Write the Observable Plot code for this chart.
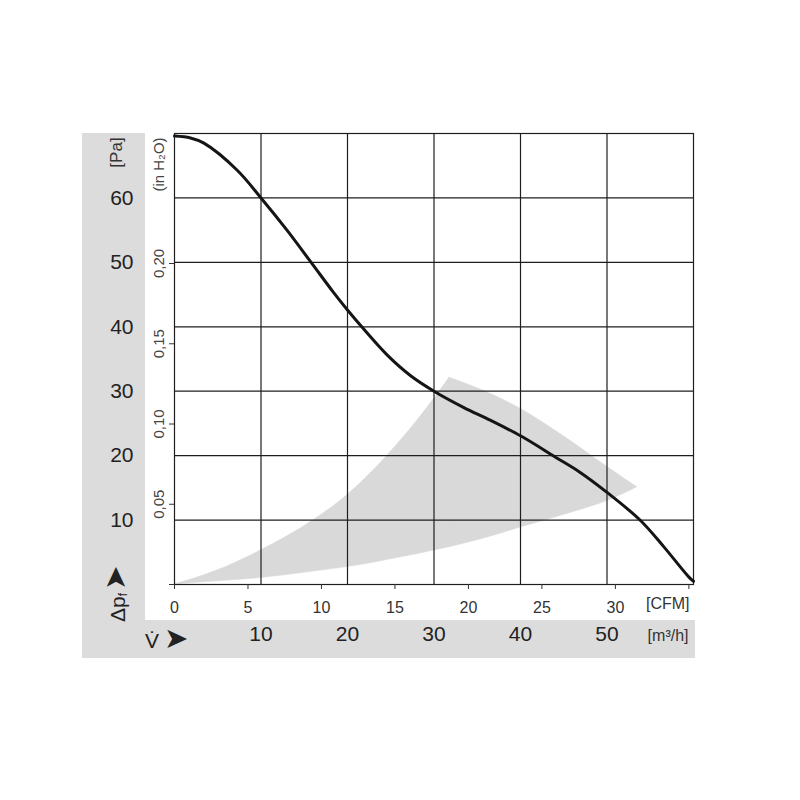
<!DOCTYPE html>
<html><head><meta charset="utf-8">
<script src="https://cdn.jsdelivr.net/npm/d3@7"></script>
<script src="https://cdn.jsdelivr.net/npm/@observablehq/plot@0.6"></script>
<style>body{margin:0;background:#fff;}</style>
</head><body><div id="chart"></div>
<script>
// Fan curve: static pressure (Pa) vs. air flow (m³/h)
const flowM3h    = [0, 1.85, 3.4, 7.25, 10, 13.0, 15.9, 18.4, 20, 21.9, 24.6, 27.3, 30, 33.4, 36.5, 40.1, 44.0, 46.9, 50.0, 53.9, 56.6, 59.5, 60];
const pressurePa = [69.6, 69.3, 68.5, 64.3, 60, 55.0, 49.8, 45.3, 42.6, 39.6, 35.6, 32.4, 30.0, 27.5, 25.5, 23.0, 19.8, 17.4, 14.3, 9.9, 5.8, 1.1, 0.5];

// Shaded operating zone, left part (rising edge) and right part (outer arc)
const zoneRiseFlow  = [0, 5, 10, 16.1, 20, 22.7, 24.6, 28.4, 31.8];
const zoneRiseUpper = [0, 2.2, 5.3, 10.0, 13.9, 17.3, 20.0, 26.0, 32.1];
const zoneRiseLower = [0, 0.5, 1.0, 2.0, 2.7, 3.3, 3.8, 4.8, 5.8];
const zoneArcFlow   = [31.8, 36, 40.1, 45.0, 50.3, 53.5];
const zoneArcUpper  = [32.1, 29.9, 27.2, 23.0, 18.0, 15.1];
const zoneArcLower  = [5.8, 7.2, 8.9, 10.8, 13.1, 15.1];

const paTicks = [10, 20, 30, 40, 50, 60];
const inH2OTicks = [0, 0.05, 0.10, 0.15, 0.20];
const inH2OLabels = ["", "0,05", "0,10", "0,15", "0,20"];
const cfmTicks = [0, 5, 10, 15, 20, 25, 30, 35];
const cfmLabels = ["0", "5", "10", "15", "20", "25", "30", ""];
const m3hTicks = [10, 20, 30, 40, 50];
const gridM3h = [10, 20, 30, 40, 50];

const PA_PER_INH2O = 249.089;
const M3H_PER_CFM = 1.69901;

const curveData = flowM3h.map((x, i) => ({x, y: pressurePa[i]}));
const riseData = zoneRiseFlow.map((x, i) => ({x, y1: zoneRiseLower[i], y2: zoneRiseUpper[i]}));
const arcData = zoneArcFlow.map((x, i) => ({x, y1: zoneArcLower[i], y2: zoneArcUpper[i]}));
const cfmPos = cfmTicks.map(c => c * M3H_PER_CFM);
const inData = inH2OTicks.map((v, i) => ({y: v * PA_PER_INH2O, label: inH2OLabels[i]}));
const font = "'Liberation Sans', Arial, Helvetica, sans-serif";
const ink = "#1e1e1e";
const zoneFill = "#d9d9d9";

const plot = Plot.plot({
  width: 800, height: 800,
  marginLeft: 174, marginRight: 107, marginTop: 133, marginBottom: 216,
  style: {fontFamily: font, overflow: "visible"},
  x: {domain: [0, 60], axis: null},
  y: {domain: [0, 70], axis: null},
  marks: [
    Plot.areaY(riseData, {x: "x", y1: "y1", y2: "y2", fill: zoneFill, stroke: zoneFill, strokeWidth: 0.5, curve: "monotone-x"}),
    Plot.areaY(arcData, {x: "x", y1: "y1", y2: "y2", fill: zoneFill, stroke: zoneFill, strokeWidth: 0.5, curve: "monotone-x"}),
    Plot.gridX(gridM3h, {stroke: ink, strokeOpacity: 1, strokeWidth: 1.2}),
    Plot.gridY(paTicks, {stroke: ink, strokeOpacity: 1, strokeWidth: 1.2}),
    Plot.frame({stroke: ink, strokeWidth: 1.2}),
    Plot.axisX(cfmPos, {tickSize: 5, tickPadding: 12, fontSize: 16, color: "#333", label: null,
      tickFormat: d => cfmLabels[cfmPos.indexOf(d)]}),
    Plot.axisY(inData.map(d => d.y), {tickSize: 5, tickFormat: () => "", color: "#333", label: null}),
    Plot.text(inData.filter(d => d.label), {y: "y", text: "label", frameAnchor: "left", dx: -15, rotate: -90,
      textAnchor: "middle", lineAnchor: "middle", fontSize: 15, fill: "#444"}),
    Plot.text(["(in H₂O)"], {frameAnchor: "top-left", dx: -15, dy: 31, rotate: -90,
      textAnchor: "middle", lineAnchor: "middle", fontSize: 15, fill: "#444"}),
    Plot.text(paTicks, {y: d => d, frameAnchor: "left", dx: -41, textAnchor: "end", fontSize: 21, fill: "#222"}),
    Plot.text(["[Pa]"], {frameAnchor: "top-left", dx: -58, dy: 19, rotate: -90,
      textAnchor: "middle", lineAnchor: "middle", fontSize: 17, fill: "#333"}),
    Plot.text(m3hTicks, {x: d => d, frameAnchor: "bottom", dy: 56, fontSize: 21, fill: "#222"}),
    Plot.text(["[m³/h]"], {frameAnchor: "bottom-right", dx: -5, dy: 56, textAnchor: "end", fontSize: 16, fill: "#333"}),
    Plot.text(["[CFM]"], {frameAnchor: "bottom-right", dx: -4, dy: 24, textAnchor: "end", fontSize: 16, fill: "#333"}),
    Plot.line(curveData, {x: "x", y: "y", stroke: "#151515", strokeWidth: 3, curve: "catmull-rom"})
  ]
});

const svg = d3.select(plot);
// grey label panels behind the chart
svg.insert("rect", ":first-child").attr("x", 82).attr("y", 620).attr("width", 613).attr("height", 38).attr("fill", "#dcdcdc");
svg.insert("rect", ":first-child").attr("x", 82).attr("y", 133).attr("width", 63).attr("height", 525).attr("fill", "#dcdcdc");
svg.insert("rect", ":first-child").attr("x", 0).attr("y", 0).attr("width", 800).attr("height", 800).attr("fill", "#ffffff");

// Δp_f ➤ (rotated)
const dp = svg.append("text").attr("transform", "translate(125,622) rotate(-90)")
  .attr("text-anchor", "start")
  .attr("font-family", font).attr("font-size", 21).attr("fill", "#222");
dp.append("tspan").text("Δp");
dp.append("tspan").attr("font-size", 12).attr("dy", 2).text("f");
dp.append("tspan").attr("dy", -2).attr("dx", 3).attr("font-family", "'DejaVu Sans', sans-serif").attr("font-size", 29).text("➤");

// V̇ ➤
const vt = svg.append("text").attr("transform", "translate(145,648)")
  .attr("text-anchor", "start")
  .attr("font-family", font).attr("font-size", 21).attr("fill", "#222");
vt.append("tspan").text("V̇");
vt.append("tspan").attr("dx", 5).attr("font-family", "'DejaVu Sans', sans-serif").attr("font-size", 29).text("➤");

document.getElementById("chart").appendChild(plot);
</script>
</body></html>
